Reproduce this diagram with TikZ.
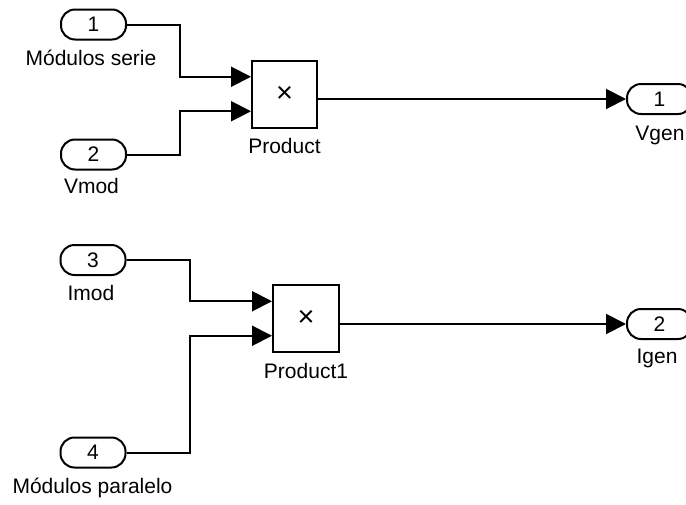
\documentclass[tikz,border=0pt]{standalone}
\usepackage{fontspec}
\setmainfont{Liberation Sans}
\usetikzlibrary{arrows.meta,calc}
\begin{document}
\begin{tikzpicture}[x=1pt,y=-1pt,
  font=\fontsize{21pt}{25pt}\selectfont,
  port/.style={draw, line width=2pt, rounded corners=14pt, minimum width=65pt, minimum height=30pt, inner sep=0pt},
  blk/.style={draw, line width=2pt, minimum width=65pt, minimum height=67pt, inner sep=0pt, font=\fontsize{29pt}{30pt}\selectfont},
  conn/.style={line width=2pt, -{Triangle[length=20pt,width=20pt]}},
  lbl/.style={anchor=base, inner sep=0pt}]
\clip (0,0) rectangle (686,504);
% ports
\node[port] (in1) at (93.5,24.5) {1};
\node[port] (in2) at (93.5,154.5) {2};
\node[port] (in3) at (93,260) {3};
\node[port] (in4) at (93,452.5) {4};
\node[port] (out1) at (659.5,99) {1};
\node[port] (out2) at (659.5,324) {2};
% blocks
\node[blk] (prod) at (284.5,94) {×};
\node[blk, minimum width=66pt] (prod1) at (306,318.5) {×};
% labels
\node[lbl] (l1) at (91,65) {Módulos serie};
\node[lbl] (l2) at (91.5,193) {Vmod};
\node[lbl] (l3) at (91,300) {Imod};
\node[lbl] (l4) at (92.5,493) {Módulos paralelo};
\node[lbl] (lp) at (284.5,153) {Product};
\node[lbl] (lp1) at (306,378) {Product1};
\node[lbl] (lo1) at (660,140) {Vgen};
\node[lbl] (lo2) at (657,363) {Igen};
% connectors
\draw[conn] (in1.east) -- ++(52.5,0) |- ($(prod.north west)!0.25!(prod.south west)$);
\draw[conn] (in2.east) -- ++(52.5,0) |- ($(prod.north west)!0.75!(prod.south west)$);
\draw[conn] (in3.east) -- ++(63.5,0) |- ($(prod1.north west)!0.25!(prod1.south west)$);
\draw[conn] (in4.east) -- ++(63.5,0) |- ($(prod1.north west)!0.75!(prod1.south west)$);
\draw[conn] (prod.east |- out1.west) -- (out1.west);
\draw[conn] (prod1.east |- out2.west) -- (out2.west);
\end{tikzpicture}
\end{document}
